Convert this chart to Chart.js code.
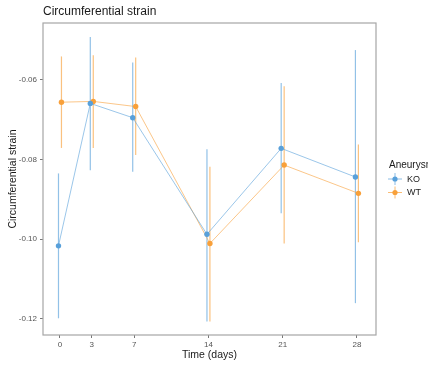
<!DOCTYPE html>
<html>
<head>
<meta charset="utf-8">
<script src="https://cdn.jsdelivr.net/npm/chart.js@4"></script>
<style>
  html, body { margin: 0; padding: 0; background: #fff; }
  #wrap { width: 428px; height: 365px; position: relative; }
</style>
</head>
<body>
<div id="wrap"><canvas id="c" width="428" height="365"></canvas></div>
<script>
// Time points (days) and group statistics of circumferential strain
const days = [0, 3, 7, 14, 21, 28];
const koMean = [-0.1017, -0.0659, -0.0695, -0.0988, -0.0772, -0.0844];
const koLow  = [-0.1199, -0.0827, -0.0831, -0.1207, -0.0935, -0.1161];
const koHigh = [-0.0835, -0.0492, -0.0556, -0.0774, -0.0608, -0.0525];
const wtMean = [-0.0656, -0.0654, -0.0667, -0.1011, -0.0814, -0.0885];
const wtLow  = [-0.0771, -0.0771, -0.0789, -0.1207, -0.1011, -0.1008];
const wtHigh = [-0.0541, -0.0538, -0.0544, -0.0818, -0.0616, -0.0762];
const xTicks = [0, 3, 7, 14, 21, 28];
const yTicks = [-0.06, -0.08, -0.10, -0.12];
const groups = ['KO', 'WT'];

const KO_COLOR = 'rgb(88,160,218)';
const WT_COLOR = 'rgb(248,160,58)';
const DODGE = 0.14;
const FONT = '"Liberation Sans", Arial, sans-serif';

function pts(xs, ys, shift) {
  return xs.map((x, i) => ({ x: x + shift, y: ys[i] }));
}

const series = [
  { label: groups[0], mean: koMean, low: koLow, high: koHigh, color: KO_COLOR, shift: -DODGE },
  { label: groups[1], mean: wtMean, low: wtLow, high: wtHigh, color: WT_COLOR, shift: DODGE }
];

function withAlpha(rgb, a) {
  return rgb.replace('rgb(', 'rgba(').replace(')', ',' + a + ')');
}

// error bars, panel border and annotation text
const decor = {
  id: 'decor',
  beforeDatasetsDraw(chart) {
    const { ctx, scales: { x, y } } = chart;
    ctx.save();
    ctx.lineWidth = 1.2;
    series.forEach(s => {
      ctx.strokeStyle = withAlpha(s.color, 0.65);
      days.forEach((d, i) => {
        const px = x.getPixelForValue(d + s.shift);
        ctx.beginPath();
        ctx.moveTo(px, y.getPixelForValue(s.low[i]));
        ctx.lineTo(px, y.getPixelForValue(s.high[i]));
        ctx.stroke();
      });
    });
    ctx.restore();
  },
  afterDraw(chart) {
    const { ctx, chartArea: a } = chart;
    ctx.save();
    // panel border
    ctx.strokeStyle = '#a6a6a6';
    ctx.lineWidth = 1.2;
    ctx.strokeRect(a.left, a.top, a.right - a.left, a.bottom - a.top);

    // title
    ctx.fillStyle = '#1a1a1a';
    ctx.font = '12px ' + FONT;
    ctx.textAlign = 'left';
    ctx.textBaseline = 'middle';
    ctx.fillText('Circumferential strain', a.left, 12);

    // axis titles
    ctx.font = '10.5px ' + FONT;
    ctx.textAlign = 'center';
    ctx.fillText('Time (days)', (a.left + a.right) / 2, 355);
    ctx.save();
    ctx.translate(13, (a.top + a.bottom) / 2);
    ctx.rotate(-Math.PI / 2);
    ctx.fillText('Circumferential strain', 0, 0);
    ctx.restore();

    // legend
    ctx.textAlign = 'left';
    ctx.font = '10px ' + FONT;
    ctx.fillText('Aneurysm', 389, 165);
    ctx.font = '9px ' + FONT;
    series.forEach((s, i) => {
      const cy = 179 + i * 13.5;
      ctx.strokeStyle = withAlpha(s.color, 0.7);
      ctx.lineWidth = 1;
      ctx.beginPath();
      ctx.moveTo(388, cy); ctx.lineTo(402, cy);
      ctx.moveTo(395, cy - 6); ctx.lineTo(395, cy + 6);
      ctx.stroke();
      ctx.fillStyle = s.color;
      ctx.beginPath();
      ctx.arc(395, cy, 2.6, 0, Math.PI * 2);
      ctx.fill();
      ctx.fillStyle = '#1a1a1a';
      ctx.fillText(s.label, 407, cy + 0.5);
    });
    ctx.restore();
  }
};

new Chart(document.getElementById('c'), {
  type: 'line',
  data: {
    datasets: series.map(s => ({
      label: s.label,
      data: pts(days, s.mean, s.shift),
      borderColor: withAlpha(s.color, 0.6),
      backgroundColor: s.color,
      pointBackgroundColor: s.color,
      pointBorderWidth: 0,
      pointRadius: 2.7,
      borderWidth: 1,
      tension: 0
    }))
  },
  options: {
    responsive: false,
    animation: false,
    layout: { padding: { top: 23, right: 52, left: 0, bottom: 0 } },
    plugins: { legend: { display: false }, tooltip: { enabled: false }, title: { display: false } },
    scales: {
      x: {
        type: 'linear',
        min: -1.6,
        max: 29.8,
        afterFit(scale) { scale.height = 30; },
        afterBuildTicks(scale) { scale.ticks = xTicks.map(v => ({ value: v })); },
        ticks: {
          color: '#555',
          font: { family: FONT, size: 8 },
          padding: 2,
          maxRotation: 0,
          callback: v => String(v)
        },
        grid: { drawOnChartArea: false, drawTicks: true, tickLength: 3, color: '#777' },
        border: { display: false }
      },
      y: {
        min: -0.1241,
        max: -0.0457,
        afterFit(scale) { scale.width = 43; },
        afterBuildTicks(scale) { scale.ticks = yTicks.map(v => ({ value: v })); },
        ticks: {
          color: '#555',
          font: { family: FONT, size: 8 },
          padding: 3,
          callback: v => v.toFixed(2)
        },
        grid: { drawOnChartArea: false, drawTicks: true, tickLength: 3, color: '#777' },
        border: { display: false }
      }
    }
  },
  plugins: [decor]
});
</script>
</body>
</html>
